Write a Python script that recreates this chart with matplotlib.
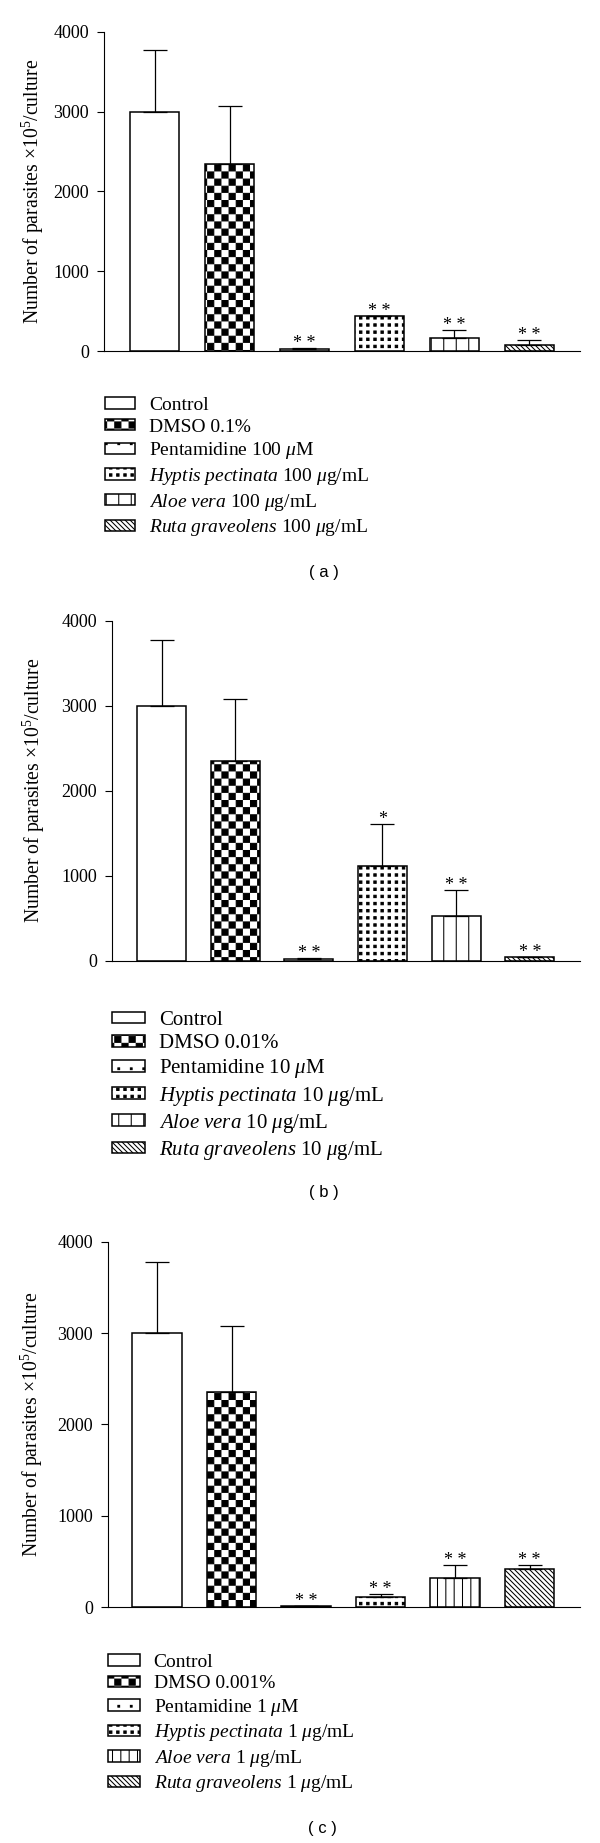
"""
Parasite counts per culture after treatment with three plant extracts,
at three concentrations: panels (a), (b), (c) stacked in one tall figure.
"""
import re
import warnings

import matplotlib

matplotlib.use("Agg")
import matplotlib.pyplot as plt
import numpy as np
from matplotlib import hatch as mhatch
from matplotlib.path import Path as MPath

warnings.filterwarnings("ignore")

# ---- data --------------------------------------------------------------
GROUPS = ["Control", "DMSO", "Pentamidine", "Hyptis pectinata", "Aloe vera",
          "Ruta graveolens"]

MEAN_A = [3000, 2343, 25, 442, 167, 71]
ERR_A = [771, 730, 12, 0, 100, 67]
STARS_A = ["", "", "* *", "* *", "* *", "* *"]
LABELS_A = ["Control", "DMSO 0.1%", r"Pentamidine 100 $\mu$M",
            r"$\it{Hyptis\ pectinata}$ 100 $\mu$g/mL",
            r"$\it{Aloe\ vera}$ 100 $\mu$g/mL",
            r"$\it{Ruta\ graveolens}$ 100 $\mu$g/mL"]

MEAN_B = [3000, 2351, 20, 1117, 533, 51]
ERR_B = [777, 729, 12, 493, 305, 0]
STARS_B = ["", "", "* *", "*", "* *", "* *"]
LABELS_B = ["Control", "DMSO 0.01%", r"Pentamidine 10 $\mu$M",
            r"$\it{Hyptis\ pectinata}$ 10 $\mu$g/mL",
            r"$\it{Aloe\ vera}$ 10 $\mu$g/mL",
            r"$\it{Ruta\ graveolens}$ 10 $\mu$g/mL"]

MEAN_C = [3000, 2351, 15, 110, 314, 416]
ERR_C = [781, 729, 0, 29, 146, 40]
STARS_C = ["", "", "* *", "* *", "* *", "* *"]
LABELS_C = ["Control", "DMSO 0.001%", r"Pentamidine 1 $\mu$M",
            r"$\it{Hyptis\ pectinata}$ 1 $\mu$g/mL",
            r"$\it{Aloe\ vera}$ 1 $\mu$g/mL",
            r"$\it{Ruta\ graveolens}$ 1 $\mu$g/mL"]

YTICKS = [0, 1000, 2000, 3000, 4000]
YLABEL = "Number of parasites ×10$^5$/culture"

W, H, DPI = 600, 1843, 100


# ---- extra hatch codes (letter + count per inch tile) ------------------
class PatternHatch(mhatch.HatchPatternBase):
    """k=checkerboard, g=dot grid, p=sparse dots, v=vertical lines,
    r=back diagonals."""
    FRAC = {"k": 0.86, "g": 0.33, "p": 0.14}

    def __init__(self, hatch, density):
        self.specs = [(c, int(n)) for c, n in
                      re.findall(r"([kgpvr])(\d+)", hatch or "")]
        self.num_vertices = sum(self._size(c, n) for c, n in self.specs)

    @staticmethod
    def _size(c, n):
        if c == "k":
            return 5 * (n * n // 2)
        if c in "gp":
            return 5 * n * n
        if c == "v":
            return 2 * n
        return 2 * (2 * n + 1)

    def set_vertices_and_codes(self, vertices, codes):
        sq = np.array([[0, 0], [1, 0], [1, 1], [0, 1], [0, 0]], float)
        sq_codes = [MPath.MOVETO, MPath.LINETO, MPath.LINETO, MPath.LINETO,
                    MPath.CLOSEPOLY]
        vs, cs = [], []
        for c, n in self.specs:
            step = 1.0 / n
            if c in "kgp":
                frac = self.FRAC[c]
                off = (1 - frac) / 2 * step
                for i in range(n):
                    for j in range(n):
                        if c == "k" and (i + j) % 2:
                            continue
                        vs.append(sq * step * frac + [i * step + off, j * step + off])
                        cs.extend(sq_codes)
            elif c == "v":
                for i in range(n):
                    x = (i + 0.5) * step
                    vs.append(np.array([[x, 0.0], [x, 1.0]]))
                    cs.extend([MPath.MOVETO, MPath.LINETO])
            else:
                for k in range(2 * n + 1):
                    y0 = k * step
                    vs.append(np.array([[0.0, y0], [1.0, y0 - 1.0]]))
                    cs.extend([MPath.MOVETO, MPath.LINETO])
        vertices[:] = np.concatenate(vs)
        codes[:] = cs


mhatch._hatch_types.append(PatternHatch)

plt.rcParams["font.family"] = ["Liberation Serif", "DejaVu Serif"]
plt.rcParams["mathtext.fontset"] = "custom"
plt.rcParams["mathtext.rm"] = "Liberation Serif"
plt.rcParams["mathtext.it"] = "Liberation Serif:italic"
plt.rcParams["hatch.linewidth"] = 0.75
plt.rcParams["hatch.color"] = "black"

# per-panel layout (pixel positions measured on the reference)
PANELS = [
    dict(mean=MEAN_A, err=ERR_A, stars=STARS_A, labels=LABELS_A, tag="( a )",
         px=(104.1, 579.8), py=(351.0, 31.7), xlim=(-0.674, 5.674), width=0.654,
         hatches=["", "k14", "p8", "g14", "v8", "r20"],
         ylab_x=-0.122,
         leg=dict(x=105, y=397, fs=14, hl=30, pad=14, sp=0.24),
         tag_xy=(324, 573)),
    dict(mean=MEAN_B, err=ERR_B, stars=STARS_B, labels=LABELS_B, tag="( b )",
         px=(112.1, 579.8), py=(961.0, 620.7), xlim=(-0.671, 5.679), width=0.665,
         hatches=["", "k14", "p8", "g14", "v8", "r20"],
         ylab_x=-0.139,
         leg=dict(x=112, y=1011, fs=15, hl=33, pad=14, sp=0.20),
         tag_xy=(324, 1193)),
    dict(mean=MEAN_C, err=ERR_C, stars=STARS_C, labels=LABELS_C, tag="( c )",
         px=(107.9, 579.8), py=(1607.0, 1241.7), xlim=(-0.660, 5.672), width=0.665,
         hatches=["", "k14", "p8", "g14", "v12", "r20"],
         ylab_x=-0.133,
         leg=dict(x=108, y=1654, fs=14, hl=31.6, pad=14, sp=0.23),
         tag_xy=(322, 1828)),
]


def draw_panel(fig, p):
    x0, x1 = p["px"]
    yb, yt = p["py"]
    ax = fig.add_axes([x0 / W, 1 - yb / H, (x1 - x0) / W, (yb - yt) / H])
    x = np.arange(len(GROUPS))
    handles = []
    for xi, m, h, lab in zip(x, p["mean"], p["hatches"], p["labels"]):
        bars = ax.bar(xi, m, width=p["width"], color="white", edgecolor="black",
                      linewidth=1.1, hatch=h or None, label=lab, zorder=2)
        handles.append(bars)
    ax.errorbar(x, p["mean"], yerr=[np.zeros(len(x)), p["err"]], fmt="none",
                ecolor="black", elinewidth=0.9, capsize=8.3, capthick=0.9,
                zorder=3)
    for xi, m, e, s in zip(x, p["mean"], p["err"], p["stars"]):
        if s:
            ax.text(xi, m + e, s, ha="center", va="baseline", fontsize=13,
                    zorder=4)

    ax.set_xlim(*p["xlim"])
    ax.set_ylim(0, 4000)
    ax.set_yticks(YTICKS)
    ax.set_xticks([])
    ax.tick_params(axis="y", direction="out", length=5.3, width=0.8, pad=5.5,
                   labelsize=13)
    for side in ("top", "right"):
        ax.spines[side].set_visible(False)
    for side in ("left", "bottom"):
        ax.spines[side].set_linewidth(0.8)
    ax.set_ylabel(YLABEL, fontsize=14.2)
    ax.yaxis.set_label_coords(p["ylab_x"], 0.5)

    lg = p["leg"]
    fs_px = lg["fs"] * DPI / 72
    ax.legend(handles=handles, loc="upper left",
              bbox_to_anchor=(lg["x"] / W, 1 - lg["y"] / H),
              bbox_transform=fig.transFigure, frameon=False,
              fontsize=lg["fs"], borderpad=0, borderaxespad=0,
              handlelength=lg["hl"] / fs_px, handleheight=10 / fs_px,
              handletextpad=lg["pad"] / fs_px, labelspacing=lg["sp"])

    tx, ty = p["tag_xy"]
    fig.text(tx / W, 1 - ty / H, p["tag"], ha="center", va="center",
             fontsize=12, family=["Liberation Sans", "DejaVu Sans"])


def main():
    fig = plt.figure(figsize=(W / DPI, H / DPI), dpi=DPI)
    for p in PANELS:
        draw_panel(fig, p)
    fig.savefig("out.png", dpi=DPI, facecolor="white")


if __name__ == "__main__":
    main()
